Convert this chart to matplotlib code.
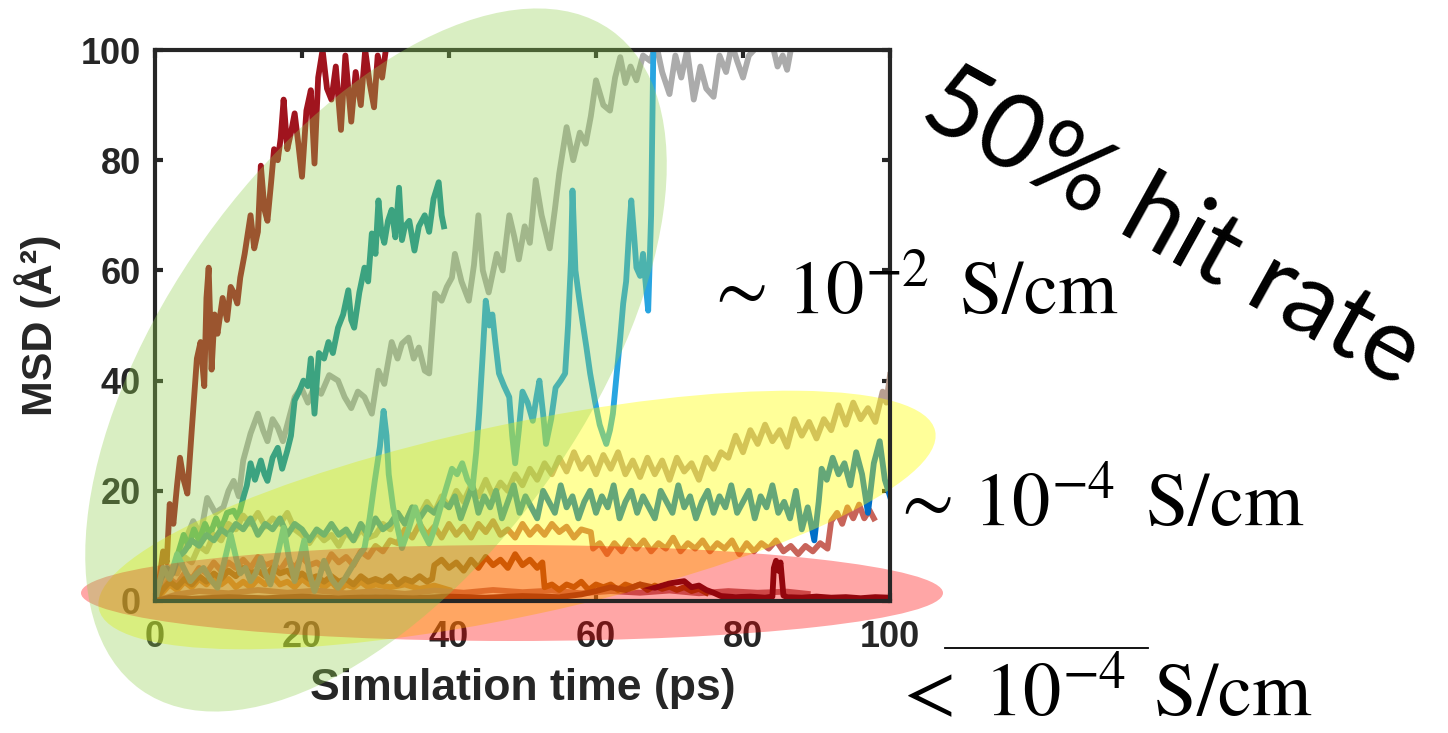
import matplotlib
matplotlib.use("Agg")
import matplotlib.pyplot as plt
import matplotlib.transforms as mtransforms
from matplotlib.patches import Ellipse
from matplotlib.lines import Line2D

# MSD traces, (time ps, MSD A^2)
trace_red = [(0, 0), (0.6, 4), (1.1, 9), (1.6, 7), (2.0, 17.6), (2.5, 14), (3.0, 21), (3.4, 26), (3.9, 22), (4.4, 19.5),
             (5.0, 31), (5.7, 44), (6.2, 47), (6.7, 39), (7.0, 55), (7.3, 60.5), (7.7, 42), (8.1, 52), (8.5, 48.5),
             (9.2, 55), (9.8, 51), (10.3, 57), (10.7, 56), (11.2, 54), (11.6, 58.7), (12.2, 63), (13.0, 70), (13.5, 64),
             (14.0, 67), (14.4, 79), (14.9, 71), (15.3, 69), (15.8, 76), (16.2, 82), (16.7, 80), (17.1, 84), (17.5, 91),
             (18.0, 82), (18.5, 85), (19.0, 88.5), (19.5, 83), (20.0, 77), (20.6, 89), (21.2, 92.7), (21.7, 79.4),
             (22.2, 95), (22.8, 100), (23.4, 93), (24.0, 91), (24.6, 97), (25.3, 85.5), (25.9, 99), (26.7, 87),
             (27.3, 96), (28.0, 90), (28.6, 100), (29.2, 94), (29.8, 89.6), (30.3, 99), (30.9, 95), (31.4, 100), (31.8, 101)]

trace_teal = [(3.0, 8), (3.9, 12), (4.6, 10), (5.3, 13), (6.0, 11), (6.8, 14), (7.5, 12), (8.3, 15), (9.0, 13), (9.8, 16),
              (10.7, 16.4), (11.3, 15), (12.0, 18.7), (12.5, 21), (13.0, 25), (13.6, 22), (14.4, 25.5), (14.9, 23),
              (15.3, 21.8), (16.0, 26), (16.7, 27.8), (17.3, 24), (18.0, 27.3), (18.5, 30), (19.0, 36.4), (19.6, 38),
              (20.2, 40), (20.8, 39), (21.2, 44), (21.7, 34), (22.3, 45), (23.0, 44), (23.6, 47), (24.2, 45), (24.9, 49.6),
              (25.6, 52), (26.3, 56.4), (26.7, 51), (27.1, 49.6), (27.8, 56), (28.5, 60.5), (29.0, 58), (29.5, 66.7),
              (30.0, 63), (30.4, 72.7), (30.8, 67), (31.2, 65), (31.7, 69), (32.2, 71), (32.7, 66), (33.2, 75), (33.6, 65.5),
              (34.0, 68), (34.6, 69), (35.3, 63.6), (35.9, 68), (36.7, 70), (37.3, 67), (37.9, 73), (38.6, 76), (39.0, 70),
              (39.3, 68)]

trace_gray = [(2.0, 4), (3.5, 9), (5.2, 14.5), (6.2, 12), (7.1, 18.7), (8.2, 16), (9.3, 17), (10.0, 20), (10.7, 21.8),
              (11.4, 19), (12.0, 25.5), (13.0, 30.4), (14.0, 34), (14.7, 31), (15.3, 29), (16.0, 33), (16.7, 31.5),
              (17.4, 29), (18.0, 32), (19.0, 37), (19.9, 38.7), (20.8, 36), (21.7, 39), (22.6, 37.6), (23.7, 41),
              (24.9, 40), (25.8, 37), (26.7, 35), (27.6, 38), (28.5, 37), (29.5, 34), (30.4, 41.8), (31.2, 39.4),
              (32.2, 47), (33.0, 44), (33.6, 46.7), (34.5, 47.8), (35.2, 44), (35.9, 46), (36.7, 41.8), (37.3, 41.3),
              (38.1, 55.8), (39.0, 54.5), (39.7, 57), (40.4, 58.7), (40.8, 63), (41.7, 58), (42.7, 54.5), (43.4, 61),
              (44.0, 70), (44.6, 60), (45.4, 56), (46.5, 63), (47.3, 60), (48.2, 70), (48.9, 66), (49.5, 62), (50.3, 68),
              (51.0, 65), (51.8, 76.4), (52.6, 70), (53.7, 64), (54.4, 71), (55.0, 77.6), (56.0, 86), (56.9, 80),
              (57.8, 85), (58.6, 83), (59.3, 88), (60.0, 94.5), (61.0, 90), (61.9, 89), (62.6, 95), (63.3, 98.7),
              (64.0, 94), (64.7, 97), (65.5, 94.5), (66.4, 99), (67.4, 98), (68.2, 101), (69.0, 96), (70.0, 92),
              (70.8, 99), (71.6, 95), (72.4, 100), (73.3, 91), (74.2, 97), (75.0, 93), (76.0, 91.5), (76.8, 99),
              (77.7, 96), (78.5, 101), (79.2, 98), (80.0, 95), (80.8, 99), (81.5, 100), (82.4, 103), (83.3, 105),
              (84.0, 101), (84.7, 97), (85.4, 99), (86.0, 96.4), (86.5, 100), (87.3, 103), (88.5, 106), (91.0, 105),
              (95.0, 107), (100.0, 106)]

trace_cyan = [(0, 0), (1.1, 6), (2.0, 4), (3.0, 8.5), (3.9, 6), (4.8, 3.6), (5.7, 5), (6.6, 6), (7.5, 4), (8.5, 2.4),
              (9.4, 7), (10.3, 12), (11.0, 8), (11.6, 5), (12.3, 6), (13.0, 3.6), (13.7, 5), (14.4, 7.8), (15.0, 5),
              (15.7, 3), (16.6, 8), (17.5, 13.3), (18.2, 8), (19.0, 3.6), (19.6, 7), (20.3, 11), (21.0, 5), (21.7, 1.8),
              (22.3, 4), (23.0, 7.3), (24.0, 4), (24.9, 2.4), (25.8, 4), (26.7, 6), (27.6, 8), (28.5, 9.6), (29.2, 15),
              (29.9, 21.8), (30.6, 28), (31.1, 34.5), (31.5, 30), (31.8, 23), (32.4, 17), (33.1, 12.7), (33.6, 9.6),
              (34.5, 13), (35.4, 17), (36.3, 13), (37.3, 10.4), (38.0, 13), (38.6, 15.8), (39.5, 20), (40.4, 24),
              (41.1, 23), (41.8, 25), (42.5, 22), (43.2, 20.5), (43.7, 27), (44.1, 34), (44.6, 45), (45.0, 54.5),
              (45.5, 50), (45.9, 52), (46.3, 47), (46.8, 41.3), (47.5, 39), (48.2, 37), (48.6, 30), (49.0, 25),
              (49.5, 31), (50.0, 38), (50.7, 36), (51.4, 32.7), (51.9, 37), (52.3, 40), (52.8, 34), (53.2, 28.5),
              (53.9, 33), (54.5, 38.7), (55.2, 40), (55.8, 41.3), (56.2, 50), (56.6, 62), (56.8, 74.5), (57.2, 60),
              (57.7, 55), (58.2, 50.4), (58.7, 46), (59.2, 41.3), (59.9, 36), (60.5, 32), (61.0, 30), (61.4, 28.5),
              (61.9, 31), (62.3, 34), (62.8, 41), (63.3, 47.8), (63.7, 54), (64.1, 58), (64.5, 67), (64.8, 72.7),
              (65.2, 66), (65.5, 60.5), (66.0, 59), (66.4, 63), (66.8, 57), (67.1, 52.7), (67.5, 70), (67.8, 100),
              (68.2, 106)]

trace_blue = [(0, 0), (0.8, 4), (1.6, 6), (2.4, 5), (3.2, 8), (4.0, 9), (5, 11), (6, 10), (7, 12), (8, 11), (9, 13),
              (10, 12), (11, 14), (12, 13), (13, 15), (14, 12), (15, 14), (16, 13), (17, 15), (18, 12), (19, 14),
              (20, 13), (21, 11), (22, 13), (23, 12), (24, 14), (25, 12), (26, 13), (27, 11), (28, 14), (29, 12),
              (30, 15), (31, 13), (32, 14), (33, 16), (34, 14), (35, 17), (36, 15), (37, 17), (38, 16), (39, 18),
              (40.0, 17), (40.8, 19), (41.6, 15), (42.4, 18), (43.2, 21), (44.0, 16), (44.8, 19), (45.6, 17),
              (46.4, 20), (47.2, 15), (48.0, 18), (48.8, 21), (49.6, 16), (50.4, 19), (51.2, 17), (52.0, 15),
              (52.8, 20), (53.6, 18), (54.4, 16), (55.2, 21), (56.0, 17), (56.8, 19), (57.6, 15), (58.4, 18),
              (59.2, 20), (60.0, 16), (60.8, 19), (61.6, 17), (62.4, 21), (63.2, 15), (64.0, 18), (64.8, 20),
              (65.6, 16), (66.4, 19), (67.2, 17), (68.0, 15), (68.8, 20), (69.6, 18), (70.4, 16), (71.2, 21),
              (72.0, 17), (72.8, 19), (73.6, 15), (74.4, 18), (75.2, 20), (76.0, 16), (76.8, 19), (77.6, 17),
              (78.4, 21), (79.2, 16), (80.0, 18), (80.8, 20), (81.6, 15), (82.4, 19), (83.2, 17), (84.0, 21),
              (84.8, 16), (85.6, 18), (86.4, 15), (87.2, 20), (88.0, 13), (88.8, 17), (89.7, 11), (90.3, 18),
              (90.7, 24), (91.4, 22), (92.2, 26), (93.0, 23), (93.8, 25), (94.6, 21), (95.4, 27), (96.2, 23),
              (97.0, 16), (97.8, 25), (98.6, 29), (99.3, 22), (100.0, 19)]

trace_tan = [(0, 0), (1, 3), (2, 6), (3, 5), (4, 8), (5, 7), (6, 10), (7, 9), (8, 12), (9, 11), (10, 14), (11, 13),
             (12, 15.5), (13, 14), (14, 16), (15, 13.5), (16, 15), (17, 14), (18, 16), (19, 13), (20, 12), (21, 10.5),
             (22, 12.5), (23, 11), (24, 12), (25, 10), (26, 12.5), (27, 11), (28, 13), (29, 11.5), (30, 12), (31, 14),
             (32, 13), (33, 16), (34, 14), (35, 17), (36, 15.5), (37, 18), (38, 16), (39, 19), (40, 17), (41, 20),
             (42, 18), (43, 21), (44, 19), (45, 22), (46, 19), (47, 21.5), (48, 20), (49, 23), (50, 21), (51, 24),
             (52, 22), (53, 25), (54, 23), (55, 26), (56, 23.5), (57, 27), (58, 24), (59, 26), (60, 23), (61, 26.5),
             (62, 24), (63, 27), (64, 23), (65, 25.5), (66, 22.5), (67, 26), (68, 23), (69, 25.5), (70, 22), (71, 26),
             (72, 23.5), (73, 25), (74, 22), (75, 26), (76, 24), (77, 27), (78, 26), (79, 30), (80, 27), (81, 31),
             (82, 28.5), (83, 32), (84, 29), (85, 31), (86, 28), (87, 33), (88, 30), (89, 32.5), (90, 29.5), (91, 33),
             (92, 31), (93, 35.5), (94, 32), (95, 36), (96, 33), (97, 35), (98, 32.5), (99, 38), (99.5, 36), (100, 41)]

trace_salmon = [(0, 0), (1, 2), (2, 4), (3, 3), (4, 5), (5, 4), (6, 6), (7, 5), (8, 7), (9, 5.5), (10, 7), (11, 6),
                (12, 7.5), (13, 6), (14, 8), (15, 6.5), (16, 7), (17, 5.5), (18, 7.5), (19, 6), (20, 8), (21, 6.5),
                (22, 7), (23, 6), (24, 8.5), (25, 7), (26, 8), (27, 6.5), (28, 9), (29, 8), (30, 10), (31, 9), (32, 11),
                (33, 10.5), (34, 13), (35, 11.5), (36, 14), (37, 12), (38, 13.5), (39, 11.5), (40, 14), (41, 12),
                (42, 13.5), (43, 11.5), (44, 14), (45, 12.5), (46, 14.5), (47, 12), (48, 13), (49, 11.5), (50, 14),
                (51, 12), (52, 13.5), (53, 12), (54, 14), (55, 12.5), (56, 13.5), (57, 11.5), (58, 13), (59.3, 12.5),
                (59.6, 9.5), (60.5, 10.5), (61.5, 8.5), (62.5, 10.5), (63.5, 9), (64.5, 11), (65.5, 9.5), (66.5, 11),
                (67.5, 9), (68.5, 10.5), (69.5, 9.5), (70.5, 11.5), (71.5, 9), (72.5, 10.5), (73.5, 9.5), (74.5, 11),
                (75.5, 9), (76.5, 10.5), (77.5, 9.5), (78.5, 11), (79.5, 8.5), (80.5, 10.5), (81.5, 9), (82.5, 10.5),
                (83.5, 9.5), (84.5, 11), (85.5, 9), (86.5, 10), (87.5, 8.5), (88.5, 10), (89.5, 9), (90.5, 10.5),
                (91.5, 9.5), (92, 14.5), (92.8, 16), (93.5, 14), (94.2, 17), (95, 15), (95.8, 17.5), (96.5, 15),
                (97.2, 16.5), (97.8, 15)]

trace_brown = [(0, 0), (1, 2), (2, 3.5), (3, 2.5), (4, 4), (5, 3), (6, 4.5), (7, 3.5), (8, 5), (9, 4), (10, 5.5),
               (11, 4.5), (12, 6), (13, 5), (14, 5.5), (15, 4.5), (16, 6), (17, 5), (18, 5.5), (19, 4), (20, 5), (21, 4),
               (22, 4.5), (23, 3.5), (24, 4.5), (25, 3.5), (26, 4), (27, 3), (28, 4.5), (29, 3.5), (30, 4), (31, 3.5),
               (32, 4.5), (33, 3), (34, 4), (35, 3.5), (36, 4.5), (37, 3.5), (37.7, 4), (38, 6.5), (39, 7.5), (40, 6),
               (41, 7), (42, 5.5), (43, 7.5), (44, 6), (45, 8), (46, 6.5), (47, 7.5), (48, 6), (49, 8.5), (50, 6.5),
               (51, 7.5), (52, 6), (52.7, 7), (53, 2.5), (54, 3), (55, 2), (56, 3), (57, 2.5), (58, 3.5), (59, 2),
               (60, 3), (61, 2.5), (62, 3), (63, 2), (64, 3), (65, 2.5), (66, 3), (67, 2), (68, 2.8), (69, 2.2),
               (70, 2.6), (71, 2), (72, 2.5), (73, 1.8), (74, 2.2), (75, 1.5)]

trace_maroon = [(0, 0), (2, 0.6), (5, 0.4), (10, 0.7), (15, 0.5), (20, 0.8), (25, 0.5), (30, 0.7), (35, 0.5), (40, 0.8),
                (45, 0.6), (50, 0.9), (55, 0.7), (58, 1.2), (60, 1.8), (62, 2.5), (64, 2), (66, 3), (68, 2.4), (70, 3.2),
                (72, 3.6), (73, 2.5), (74, 2.8), (75, 2), (76, 1.5), (77, 0.9), (79, 0.7), (81, 0.8), (83, 0.6),
                (84, 0.8), (84.2, 6), (84.5, 7.3), (84.8, 5.5), (85.1, 7), (85.5, 1), (86, 0.7), (88, 0.6), (90, 0.8),
                (92, 0.6), (94, 0.7), (96, 0.5), (98, 0.7), (100, 0.6)]

trace_rose = [(0, 0), (3, 1.2), (6, 1.8), (10, 1.4), (14, 2), (18, 1.5), (22, 1.9), (26, 1.4), (30, 1.8), (34, 1.3),
              (38, 1.9), (42, 1.5), (46, 2), (50, 1.6), (54, 1.9), (58, 1.4), (62, 1.8), (66, 1.5), (70, 1.9),
              (74, 1.4), (78, 1.8), (82, 1.5), (86, 1.7), (88.8, 1.3)]

trace_orange = [(0, 0), (1, 1.5), (2, 3), (3, 2), (4, 3.5), (5, 2.5), (6, 4), (7, 3), (8, 4.5), (9, 3), (10, 4),
                (11, 2.5), (12, 3.5), (13, 2.5), (14, 4), (15, 3), (16, 4.5), (17, 3), (18, 3.5), (19, 2.5), (20, 4),
                (21, 3), (22, 3.5), (23, 2.5), (24, 3.5), (25, 2), (26, 3), (27, 2.5), (28, 3.5), (29, 2.5), (30, 3),
                (32, 2.5), (34, 3), (36, 2.2), (38, 2.8), (40, 2)]

traces = [
    (trace_gray, '#ABABAB'),
    (trace_red, '#A0141E'),
    (trace_teal, '#0F8C9B'),
    (trace_tan, '#B89E90'),
    (trace_salmon, '#C8645A'),
    (trace_blue, '#006EC8'),
    (trace_orange, '#E6781E'),
    (trace_rose, '#B46E6E'),
    (trace_brown, '#8C3C0A'),
    (trace_cyan, '#28A5E1'),
    (trace_maroon, '#5A0A14'),
]

ticks = [0, 20, 40, 60, 80, 100]

W, H = 1448, 733
fig = plt.figure(figsize=(W / 100, H / 100), dpi=100)
plt.rcParams['mathtext.fontset'] = 'stix'

ax = fig.add_axes([155 / W, 1 - 601 / H, 735 / W, 551 / H])
for tr, col in traces:
    t = [p[0] for p in tr]
    y = [p[1] for p in tr]
    ax.plot(t, y, color=col, lw=4.2, solid_joinstyle='round', zorder=2)

ax.set_xlim(0, 100)
ax.set_ylim(0, 100)
ax.set_xticks(ticks)
ax.set_yticks(ticks)
dark = '#262626'
for s in ax.spines.values():
    s.set_linewidth(3)
    s.set_color(dark)
ax.tick_params(direction='in', length=6, width=3, color=dark, top=True, right=True,
               labelsize=26, labelcolor=dark)
ax.tick_params(axis='x', pad=14)
ax.tick_params(axis='y', pad=10)
for lab in ax.get_xticklabels() + ax.get_yticklabels():
    lab.set_fontweight('bold')
    lab.set_family('Liberation Sans')
ax.set_xlabel('Simulation time (ps)', fontsize=32, fontweight='bold', family='Liberation Sans',
              color=dark, labelpad=9)
ax.set_ylabel('MSD (Å²)', fontsize=31, fontweight='bold', family='Liberation Sans',
              color=dark, labelpad=14)

# pixel coordinates of the picture (y downwards)
px = mtransforms.Affine2D().scale(1 / W, -1 / H).translate(0, 1) + fig.transFigure


def blob(cx, cy, w, h, ang, color, alpha, z):
    e = Ellipse((cx, cy), w, h, angle=ang, facecolor=color, edgecolor='none', alpha=alpha,
                transform=px, clip_on=False, zorder=z)
    ax.add_patch(e)


blob(517, 520, 855, 192, -12, '#FFFF00', 0.40, 2.3)
blob(512, 593, 862, 96, 0, '#FF0000', 0.35, 2.4)
blob(376, 360, 810, 420, -54.5, '#92D050', 0.35, 3)

fig.text(916, 120, '50% hit rate', rotation=-29, rotation_mode='anchor', ha='left', va='baseline',
         fontsize=74, family='Lato', color='black', transform=px)
fig.text(704, 313, r'$\sim\,10^{-2}\ \,\mathrm{S/cm}$', fontsize=55, ha='left', va='baseline',
         color='black', transform=px)
fig.text(890, 525, r'$\sim\,10^{-4}\ \,\mathrm{S/cm}$', fontsize=55, ha='left', va='baseline',
         color='black', transform=px)
fig.text(892, 716, r'$<\ 10^{-4}\;\,\mathrm{S/cm}$', fontsize=55, ha='left', va='baseline',
         color='black', transform=px)
# bar over the "10^-4" of the last label
fig.add_artist(Line2D([945, 1148], [648, 648], color='black', lw=1.3, transform=px))

fig.savefig('out.png', dpi=100)
